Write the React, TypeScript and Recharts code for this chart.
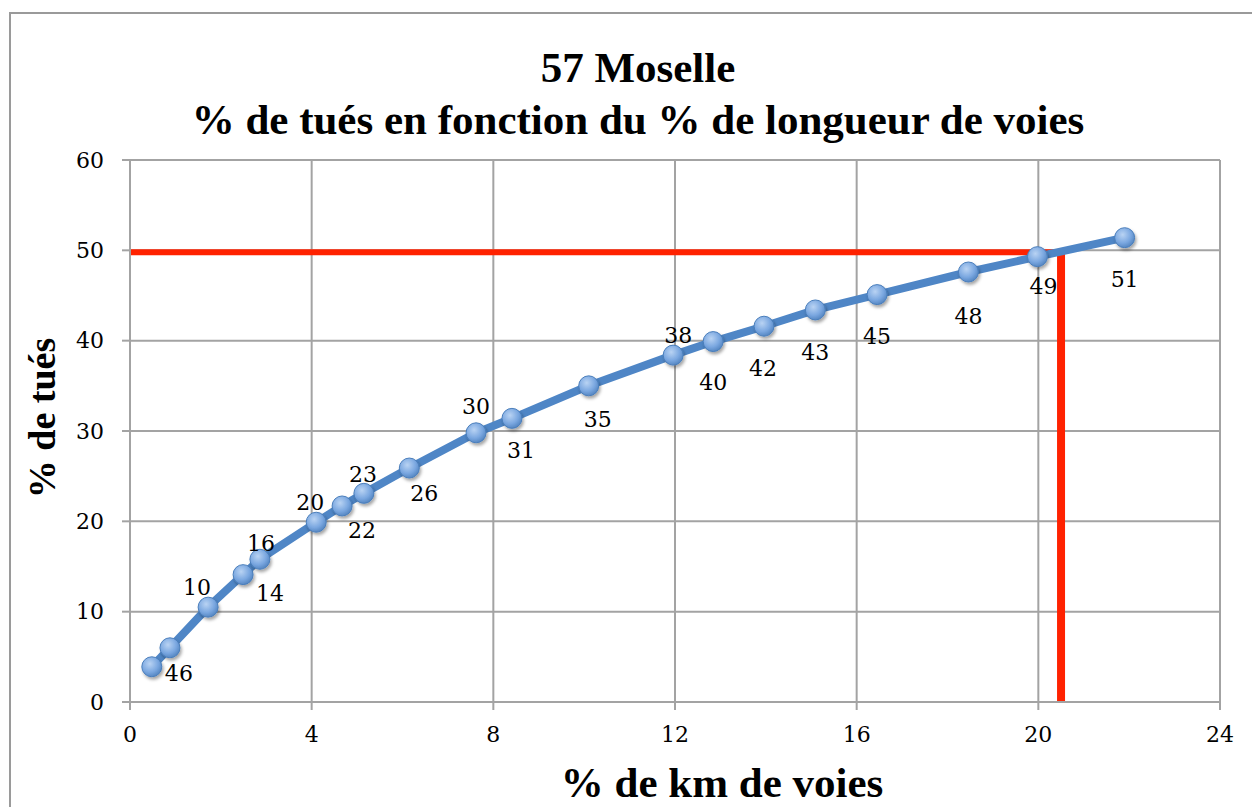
import { ScatterChart, Scatter, XAxis, YAxis, CartesianGrid, ReferenceLine } from 'recharts'

// values
const xValues = [0.48, 0.88, 1.72, 2.49, 2.86, 4.1, 4.67, 5.15, 6.15, 7.62, 8.41, 10.1, 11.96, 12.84, 13.96, 15.09, 16.45, 18.46, 19.98, 21.9]
const yValues = [3.9, 6.0, 10.5, 14.1, 15.8, 19.9, 21.7, 23.1, 25.9, 29.8, 31.4, 35.0, 38.4, 39.9, 41.6, 43.4, 45.1, 47.6, 49.3, 51.4]
const pointLabels = ['4', '6', '10', '14', '16', '20', '22', '23', '26', '30', '31', '35', '38', '40', '42', '43', '45', '48', '49', '51']

const xTicks = [0, 4, 8, 12, 16, 20, 24]
const yTicks = [0, 10, 20, 30, 40, 50, 60]

const targetY = 49.8
const targetX = 20.5

// where each data label sits relative to its point (px)
const labelOffsets: [number, number][] = [
  [20, 7], [16, 26], [-11, -20], [27, 19], [1, -16],
  [-6, -20], [20, 25], [-1, -19], [15, 25], [0, -26],
  [9, 32], [9, 34], [5, -20], [0, 41], [-1, 42],
  [0, 43], [0, 42], [0, 44], [6, 30], [0, 42],
]

const data = xValues.map((x, i) => ({ x, y: yValues[i], label: pointLabels[i], idx: i }))

const tickFont = { fontFamily: 'DejaVu Serif', fontSize: 22, fill: '#000' }
const gray = '#a3a3a3'

const PointMark = (props: any) => {
  const { cx, cy, payload } = props
  const [dx, dy] = labelOffsets[payload.idx]
  return (
    <g>
      <circle
        cx={cx}
        cy={cy}
        r={10}
        fill="url(#ptFill)"
        stroke="#4a7ebb"
        strokeWidth={1}
        filter="url(#ptShadow)"
      />
      <text
        x={cx + dx}
        y={cy + dy}
        textAnchor="middle"
        dominantBaseline="central"
        fontFamily="DejaVu Serif"
        fontSize={22}
        fill="#000"
      >
        {payload.label}
      </text>
    </g>
  )
}

const titleStyle = {
  position: 'absolute' as const,
  fontFamily: '"Liberation Serif", serif',
  fontWeight: 'bold' as const,
  fontSize: 43,
  color: '#000',
  textAlign: 'center' as const,
  whiteSpace: 'nowrap' as const,
}

export default function App() {
  return (
    <div
      style={{
        position: 'absolute',
        left: 0,
        top: 0,
        width: 1252,
        height: 807,
        overflow: 'hidden',
        background: '#fff',
      }}
    >
      <svg width={0} height={0} style={{ position: 'absolute' }}>
        <defs>
          <radialGradient id="ptFill" cx="40%" cy="35%" r="70%">
            <stop offset="0%" stopColor="#b9d3f3" />
            <stop offset="60%" stopColor="#7aa7e0" />
            <stop offset="100%" stopColor="#4f81bd" />
          </radialGradient>
          <filter id="ptShadow" x="-50%" y="-50%" width="200%" height="200%">
            <feDropShadow dx={1.5} dy={2.5} stdDeviation={1.5} floodColor="#000" floodOpacity={0.35} />
          </filter>
        </defs>
      </svg>

      <div
        style={{
          position: 'absolute',
          left: 9,
          top: 12,
          width: 1400,
          height: 1000,
          borderLeft: '2px solid #9a9a9a',
          borderTop: '2px solid #9a9a9a',
        }}
      />

      <div style={{ ...titleStyle, left: 138, top: 42, width: 1000, lineHeight: '52px' }}>
        57 Moselle
        <br />% de tués en fonction du % de longueur de voies
      </div>

      <div style={{ position: 'absolute', left: 0, top: 0 }}>
        <ScatterChart width={1252} height={807} margin={{ top: 160, right: 32, bottom: 65, left: 0 }}>
          <CartesianGrid stroke={gray} strokeWidth={2} />
          <XAxis
            type="number"
            dataKey="x"
            domain={[0, 24]}
            ticks={xTicks}
            tick={tickFont}
            axisLine={{ stroke: gray, strokeWidth: 2 }}
            tickLine={{ stroke: gray, strokeWidth: 2 }}
            tickSize={8}
            tickMargin={16}
            height={40}
          />
          <YAxis
            type="number"
            dataKey="y"
            domain={[0, 60]}
            ticks={yTicks}
            tick={tickFont}
            axisLine={{ stroke: gray, strokeWidth: 2 }}
            tickLine={{ stroke: gray, strokeWidth: 2 }}
            tickSize={8}
            tickMargin={18}
            width={130}
          />
          <Scatter
            data={data}
            line={{ stroke: '#4f86c6', strokeWidth: 8 }}
            lineType="joint"
            shape={PointMark}
            isAnimationActive={false}
          />
          <ReferenceLine
            segment={[{ x: 0, y: targetY }, { x: targetX, y: targetY }]}
            stroke="#ff2200"
            strokeWidth={6}
          />
          <ReferenceLine
            segment={[{ x: targetX, y: targetY + 0.3 }, { x: targetX, y: 0 }]}
            stroke="#ff2200"
            strokeWidth={8}
          />
        </ScatterChart>
      </div>

      <div style={{ ...titleStyle, left: 372, top: 763, width: 700, lineHeight: '40px' }}>
        % de km de voies
      </div>

      <div
        style={{
          ...titleStyle,
          fontSize: 38,
          left: -108,
          top: 398,
          width: 300,
          height: 40,
          lineHeight: '40px',
          transform: 'rotate(-90deg)',
          transformOrigin: 'center',
        }}
      >
        % de tués
      </div>
    </div>
  )
}
